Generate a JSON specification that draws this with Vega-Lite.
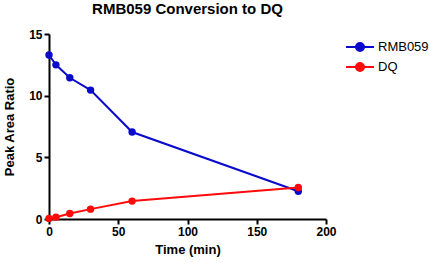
{
  "$schema": "https://vega.github.io/schema/vega-lite/v6.json",
  "width": 277,
  "height": 185,
  "autosize": {"type": "none"},
  "padding": {"left": 49, "top": 34, "right": 103, "bottom": 44},
  "background": "white",
  "title": {"text": "RMB059 Conversion to DQ", "font": "Liberation Sans", "fontSize": 15, "fontWeight": "bold", "color": "black", "anchor": "middle", "offset": 11},
  "data": {"values": [
    {"t": 0, "v": 13.3, "s": "RMB059"},
    {"t": 5, "v": 12.5, "s": "RMB059"},
    {"t": 15, "v": 11.45, "s": "RMB059"},
    {"t": 30, "v": 10.45, "s": "RMB059"},
    {"t": 60, "v": 7.05, "s": "RMB059"},
    {"t": 180, "v": 2.25, "s": "RMB059"},
    {"t": 0, "v": 0.05, "s": "DQ"},
    {"t": 5, "v": 0.15, "s": "DQ"},
    {"t": 15, "v": 0.45, "s": "DQ"},
    {"t": 30, "v": 0.8, "s": "DQ"},
    {"t": 60, "v": 1.45, "s": "DQ"},
    {"t": 180, "v": 2.55, "s": "DQ"}
  ]},
  "config": {
    "view": {"stroke": null},
    "axis": {"domainColor": "black", "domainWidth": 2, "tickColor": "black", "tickWidth": 2, "tickSize": 5, "grid": false, "labelFlush": false, "labelFont": "Liberation Sans", "labelFontWeight": "bold", "labelFontSize": 12, "labelColor": "black", "titleFont": "Liberation Sans", "titleFontWeight": "bold", "titleFontSize": 13, "titleColor": "black"}
  },
  "encoding": {
    "x": {"field": "t", "type": "quantitative", "title": "Time (min)", "scale": {"domain": [0, 200]}, "axis": {"values": [0, 50, 100, 150, 200], "labelPadding": 2, "titlePadding": 6}},
    "y": {"field": "v", "type": "quantitative", "title": "Peak Area Ratio", "scale": {"domain": [0, 15]}, "axis": {"values": [0, 5, 10, 15], "labelPadding": 2, "titlePadding": 12}},
    "color": {"field": "s", "type": "nominal", "sort": ["RMB059", "DQ"], "scale": {"domain": ["RMB059", "DQ"], "range": ["#0a0acc", "#ff0a0a"]},
      "legend": {"title": null, "orient": "none", "legendX": 300, "legendY": 2, "padding": 0, "symbolType": "M-1.4,0H1.4M-0.4,0A0.4,0.4 0 1 1 0.4,0A0.4,0.4 0 1 1 -0.4,0Z", "symbolSize": 400, "symbolStrokeWidth": 2, "labelFont": "Liberation Sans", "labelFontSize": 13, "labelColor": "black", "rowPadding": 1, "labelOffset": 7}}
  },
  "layer": [
    {"mark": {"type": "line", "strokeWidth": 2}},
    {"mark": {"type": "circle", "size": 55, "opacity": 1}}
  ]
}
